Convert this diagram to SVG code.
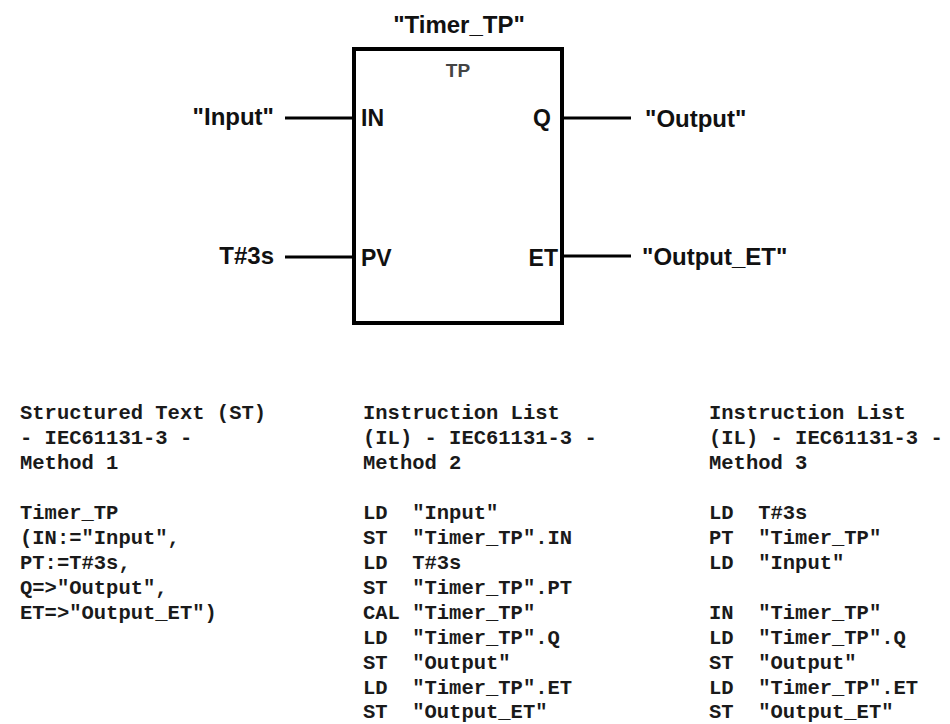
<svg xmlns="http://www.w3.org/2000/svg" width="950" height="724" viewBox="0 0 950 724">
<style>
.lbl{font-family:"Liberation Sans",Arial,sans-serif;font-weight:bold;font-size:24px;fill:#111}
.pin{font-family:"Liberation Sans",Arial,sans-serif;font-weight:bold;font-size:23px;fill:#111}
.code{font-family:"Liberation Mono","Courier New",monospace;font-weight:bold;font-size:20.5px;fill:#1a1a1a;white-space:pre}
.wire{stroke:#000;stroke-width:3;fill:none}
</style>
<rect width="950" height="724" fill="#fff"/>
<g id="block">
<rect x="354" y="49" width="208" height="274" fill="#fff" stroke="#000" stroke-width="4"/>
<text x="459" y="33" text-anchor="middle" class="lbl">"Timer_TP"</text>
<text x="458" y="77" text-anchor="middle" font-family="Liberation Sans,Arial,sans-serif" font-weight="bold" font-size="19" fill="#444">TP</text>
<text x="361" y="126" class="pin">IN</text>
<text x="551" y="126" text-anchor="end" class="pin">Q</text>
<text x="361" y="266" class="pin">PV</text>
<text x="558" y="266" text-anchor="end" class="pin">ET</text>
</g>
<g id="in-input"><text x="274" y="125" text-anchor="end" class="lbl">"Input"</text></g>
<g id="in-pv"><text x="274" y="264" text-anchor="end" class="lbl">T#3s</text></g>
<g id="out-q"><text x="645" y="127" class="lbl">"Output"</text></g>
<g id="out-et"><text x="642" y="265" class="lbl">"Output_ET"</text></g>
<g id="connectors">
<line class="wire" x1="285" y1="118" x2="354" y2="118"/>
<line class="wire" x1="285" y1="257" x2="354" y2="257"/>
<line class="wire" x1="562" y1="118" x2="631" y2="118"/>
<line class="wire" x1="562" y1="256" x2="631" y2="256"/>
</g>
<g id="method1">
<text x="20" y="419" class="code">Structured Text (ST)</text>
<text x="20" y="444" class="code">- IEC61131-3 -</text>
<text x="20" y="469" class="code">Method 1</text>
<text x="20" y="519" class="code">Timer_TP</text>
<text x="20" y="544" class="code">(IN:="Input",</text>
<text x="20" y="569" class="code">PT:=T#3s,</text>
<text x="20" y="594" class="code">Q=&gt;"Output",</text>
<text x="20" y="619" class="code">ET=&gt;"Output_ET")</text>
</g>
<g id="method2">
<text x="363" y="419" class="code">Instruction List</text>
<text x="363" y="444" class="code">(IL) - IEC61131-3 -</text>
<text x="363" y="469" class="code">Method 2</text>
<text x="363" y="519" class="code">LD  "Input"</text>
<text x="363" y="544" class="code">ST  "Timer_TP".IN</text>
<text x="363" y="569" class="code">LD  T#3s</text>
<text x="363" y="594" class="code">ST  "Timer_TP".PT</text>
<text x="363" y="619" class="code">CAL "Timer_TP"</text>
<text x="363" y="644" class="code">LD  "Timer_TP".Q</text>
<text x="363" y="669" class="code">ST  "Output"</text>
<text x="363" y="694" class="code">LD  "Timer_TP".ET</text>
<text x="363" y="718" class="code">ST  "Output_ET"</text>
</g>
<g id="method3">
<text x="709" y="419" class="code">Instruction List</text>
<text x="709" y="444" class="code">(IL) - IEC61131-3 -</text>
<text x="709" y="469" class="code">Method 3</text>
<text x="709" y="519" class="code">LD  T#3s</text>
<text x="709" y="544" class="code">PT  "Timer_TP"</text>
<text x="709" y="569" class="code">LD  "Input"</text>
<text x="709" y="619" class="code">IN  "Timer_TP"</text>
<text x="709" y="644" class="code">LD  "Timer_TP".Q</text>
<text x="709" y="669" class="code">ST  "Output"</text>
<text x="709" y="694" class="code">LD  "Timer_TP".ET</text>
<text x="709" y="718" class="code">ST  "Output_ET"</text>
</g>
</svg>
